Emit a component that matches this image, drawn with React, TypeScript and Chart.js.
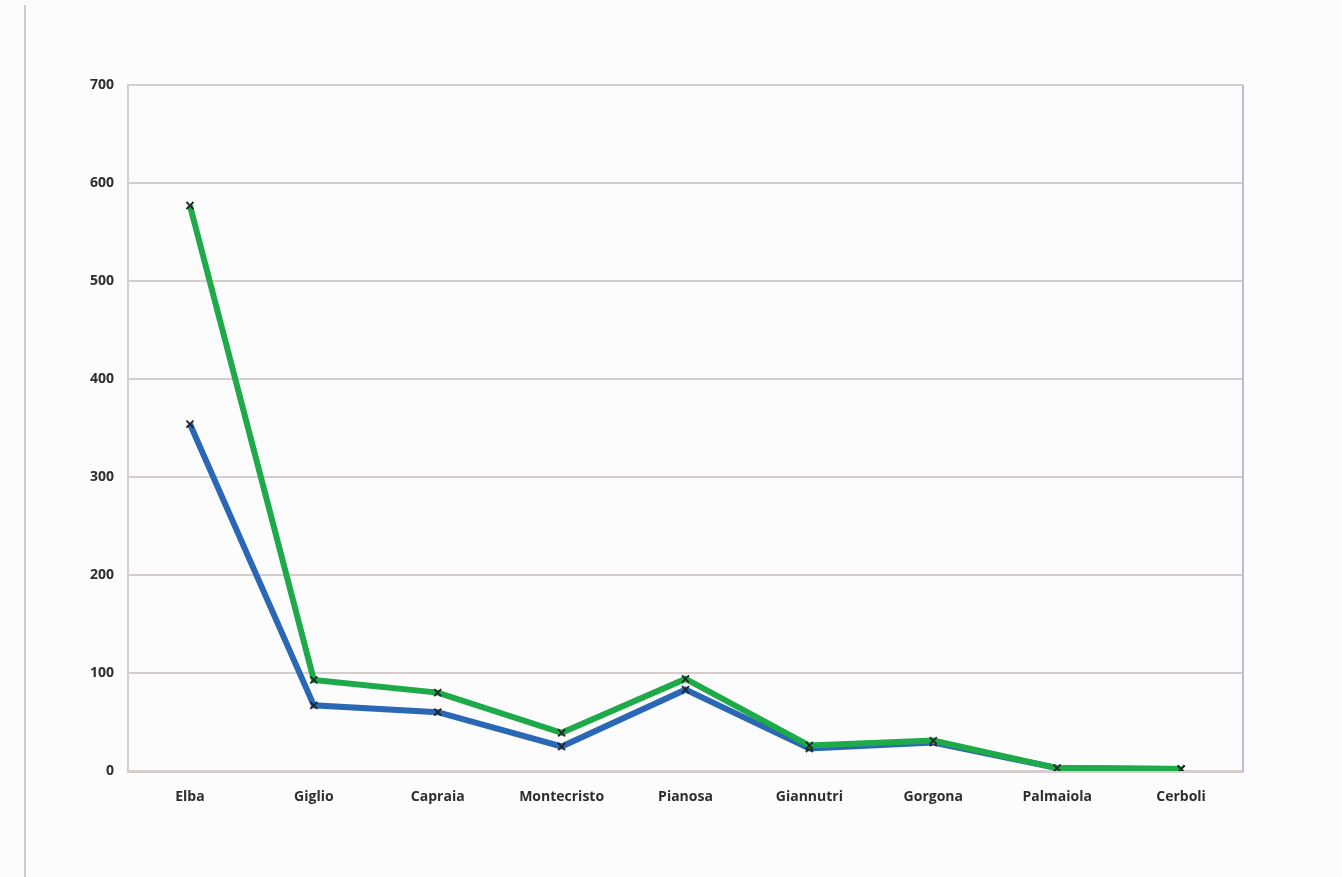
import React, { useEffect, useRef } from "react";
import { Chart, registerables } from "chart.js";

Chart.register(...registerables);

const categories = ["Elba", "Giglio", "Capraia", "Montecristo", "Pianosa", "Giannutri", "Gorgona", "Palmaiola", "Cerboli"];
const greenValues = [577, 93, 80, 39, 94, 26, 31, 3, 2];
const blueValues = [354, 67, 60, 25, 83, 23, 29, 3, 2];
const yMin = 0;
const yMax = 700;
const yStep = 100;

const rightBorder = {
  id: "rightBorder",
  afterDraw(chart: any) {
    const { ctx, chartArea } = chart;
    ctx.save();
    ctx.strokeStyle = "#b9bdd6";
    ctx.lineWidth = 2;
    ctx.beginPath();
    ctx.moveTo(chartArea.right, chartArea.top);
    ctx.lineTo(chartArea.right, chartArea.bottom);
    ctx.stroke();
    ctx.restore();
  },
};

export default function App() {
  const ref = useRef<HTMLCanvasElement>(null);
  useEffect(() => {
    if (!ref.current) return;
    const font = { family: "'Open Sans', sans-serif", size: 14, weight: "bold" as const };
    const chart = new Chart(ref.current, {
      type: "line",
      data: {
        labels: categories,
        datasets: [
          {
            data: greenValues,
            borderColor: "#1faa4a",
            borderWidth: 6,
            pointStyle: "crossRot",
            pointRadius: 5,
            pointBorderColor: "#1e2a22",
            pointBorderWidth: 1.8,
            tension: 0,
          },
          {
            data: blueValues,
            borderColor: "#2a68b6",
            borderWidth: 6,
            pointStyle: "crossRot",
            pointRadius: 5,
            pointBorderColor: "#1e2230",
            pointBorderWidth: 1.8,
            tension: 0,
          },
        ],
      },
      options: {
        animation: false,
        responsive: false,
        layout: { padding: { top: 85, right: 99, left: 0, bottom: 0 } },
        plugins: { legend: { display: false }, tooltip: { enabled: false } },
        scales: {
          x: {
            offset: true,
            grid: { display: false, drawTicks: false },
            border: { display: true, color: "#d6cecc", width: 3 },
            ticks: { color: "#2e2e2e", font, padding: 18 },
            afterFit: (s: any) => { s.height = 106; },
          },
          y: {
            min: yMin,
            max: yMax,
            ticks: { stepSize: yStep, color: "#2e2e2e", font, padding: 14 },
            grid: { color: "#d6cecc", lineWidth: 2, drawTicks: false },
            border: { display: true, color: "#d6cecc", width: 2 },
            afterFit: (s: any) => { s.width = 128; },
          },
        },
      },
      plugins: [rightBorder],
    });
    return () => chart.destroy();
  }, []);
  return (
    <div style={{ position: "fixed", left: 0, top: 0, width: 1342, height: 877, background: "#fcfcfc" }}>
      <div style={{ position: "absolute", left: 24, top: 5, width: 2, height: 872, background: "#cfcaca" }} />
      <canvas ref={ref} width={1342} height={877} style={{ position: "absolute", left: 0, top: 0, width: 1342, height: 877 }} />
    </div>
  );
}
